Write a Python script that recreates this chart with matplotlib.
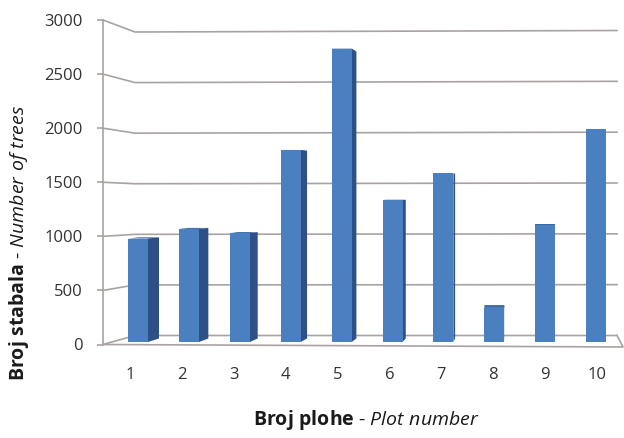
import matplotlib
matplotlib.use("Agg")
import matplotlib.pyplot as plt
from matplotlib.patches import Polygon

plt.rcParams['font.family'] = ['Open Sans', 'DejaVu Sans']
plt.rcParams['mathtext.fontset'] = 'custom'
plt.rcParams['mathtext.rm'] = 'Open Sans'
plt.rcParams['mathtext.it'] = 'Open Sans:italic'
plt.rcParams['mathtext.bf'] = 'Open Sans:bold'

# ---- data ----
plots = [1, 2, 3, 4, 5, 6, 7, 8, 9, 10]
trees = [970, 1060, 1020, 1800, 2750, 1330, 1580, 320, 1100, 2000]
y_ticks = [0, 500, 1000, 1500, 2000, 2500, 3000]
x_label = r"$\mathbf{Broj\ plohe}$ - $\mathit{Plot\ number}$"
y_label = r"$\mathbf{Broj\ stabala}$ - $\mathit{Number\ of\ trees}$"

W, H = 624, 438
fig = plt.figure(figsize=(W / 100, H / 100), dpi=100)

# front frame in pixels
AX_L, AX_R, AX_B, AX_T = 103, 624, 344.5, 20
ax = fig.add_axes([AX_L / W, (H - AX_B) / H, (AX_R - AX_L) / W, (AX_B - AX_T) / H])
PX_PER_CAT = 51.9
X0 = 130  # pixel of category 1 label


def xd(px):
    return 1 + (px - X0) / PX_PER_CAT


def yd(py):
    return (AX_B - py) * 3000 / (AX_B - AX_T)


ax.set_xlim(xd(AX_L), xd(AX_R))
ax.set_ylim(0, 3000)

grid_c = '#a8a3a0'
# back wall gridlines + connectors to front axis
for v in y_ticks:
    back_py = 335.5 - v * 303.5 / 3000
    front_py = AX_B - v * (AX_B - AX_T) / 3000
    ax.plot([xd(AX_L), xd(135), xd(617)], [yd(front_py), yd(back_py), yd(back_py - 1.5 * v / 3000)],
            color=grid_c, lw=1.2, clip_on=False, zorder=1)
# floor
ax.plot([xd(AX_L), xd(623), xd(617)], [yd(344.5), yd(347), yd(335.3)],
        color=grid_c, lw=1.2, clip_on=False, zorder=1)

# bars (pseudo 3D)
front_c = '#4b80c0'
side_c = '#2d5187'
top_c = '#3c68a3'
BAR_W = 20 / PX_PER_CAT
VPY = 182
for i, (p, v) in enumerate(zip(plots, trees)):
    xc = p + (8 - i * 1.0) / PX_PER_CAT
    bot_px = 342
    top_px = bot_px - v * 320 / 3000
    s = max(0.0, 11 - 1.55 * i) / PX_PER_CAT
    xl, xr = xc - BAR_W / 2, xc + BAR_W / 2
    bb = bot_px + (VPY - bot_px) * 0.022
    tb = top_px + (VPY - top_px) * 0.022
    # top face
    ax.add_patch(Polygon([(xl, yd(top_px)), (xr, yd(top_px)), (xr + s, yd(tb)), (xl + s, yd(tb))],
                         closed=True, facecolor=top_c, edgecolor='none', zorder=2))
    # side face
    if s > 0:
        ax.add_patch(Polygon([(xr, yd(bot_px)), (xr + s, yd(bb)), (xr + s, yd(tb)), (xr, yd(top_px))],
                             closed=True, facecolor=side_c, edgecolor='none', zorder=2))
    # front face
    ax.bar(xc, yd(top_px) - yd(bot_px), bottom=yd(bot_px), width=BAR_W,
           color=front_c, edgecolor='none', zorder=3)

# axes styling
for sp in ['top', 'right', 'bottom']:
    ax.spines[sp].set_visible(False)
ax.spines['left'].set_color(grid_c)
ax.spines['left'].set_linewidth(1.2)
ax.set_yticks(y_ticks)
ax.tick_params(axis='y', length=4.5, width=1.2, color=grid_c, pad=10, labelsize=12, labelcolor='#333333')
ax.set_xticks(plots)
ax.set_xticklabels([str(p) for p in plots])
ax.tick_params(axis='x', length=0, pad=16, labelsize=12, labelcolor='#333333')
ax.set_facecolor('none')

fig.text(366 / W, 1 - 420 / H, x_label, ha='center', va='center', fontsize=14, color='#1a1a1a')
fig.text(19 / W, 1 - 243 / H, y_label, ha='center', va='center', rotation=90, fontsize=14, color='#1a1a1a')

fig.savefig('out.png', dpi=100)
